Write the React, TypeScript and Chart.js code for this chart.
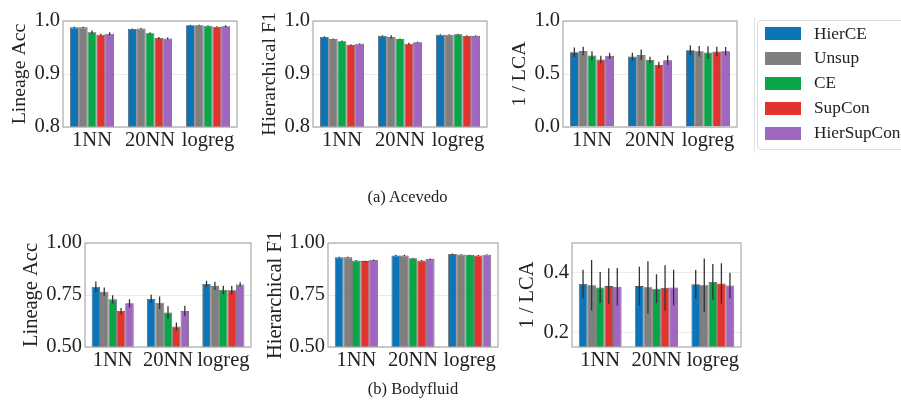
import React, { useEffect, useRef } from "react";
import { Chart, registerables } from "chart.js";

Chart.register(...registerables);

// ---------- data ----------
const categories = ["1NN", "20NN", "logreg"];
const seriesNames = ["HierCE", "Unsup", "CE", "SupCon", "HierSupCon"];
const seriesColors = ["#0c74b9", "#7f7f7f", "#08a646", "#e3332f", "#a067c1"];

// (a) Acevedo — rows follow seriesNames, columns follow categories
const aceLineageVals = [
  [0.988, 0.985, 0.992],
  [0.988, 0.986, 0.992],
  [0.979, 0.977, 0.991],
  [0.974, 0.968, 0.989],
  [0.976, 0.967, 0.990],
];
const aceLineageErrs = [
  [0.001, 0.001, 0.001],
  [0.001, 0.001, 0.001],
  [0.003, 0.002, 0.001],
  [0.002, 0.002, 0.001],
  [0.003, 0.002, 0.002],
];
const aceF1Vals = [
  [0.970, 0.972, 0.974],
  [0.966, 0.970, 0.974],
  [0.962, 0.966, 0.975],
  [0.955, 0.957, 0.972],
  [0.957, 0.960, 0.972],
];
const aceF1Errs = [
  [0.001, 0.001, 0.001],
  [0.001, 0.003, 0.001],
  [0.001, 0.001, 0.001],
  [0.001, 0.002, 0.001],
  [0.001, 0.001, 0.001],
];
const aceLcaVals = [
  [0.705, 0.665, 0.724],
  [0.718, 0.680, 0.715],
  [0.674, 0.633, 0.702],
  [0.636, 0.586, 0.712],
  [0.671, 0.630, 0.715],
];
const aceLcaErrs = [
  [0.045, 0.035, 0.045],
  [0.040, 0.050, 0.050],
  [0.040, 0.030, 0.060],
  [0.035, 0.030, 0.045],
  [0.030, 0.045, 0.040],
];

// (b) Bodyfluid
const bodyLineageVals = [
  [0.790, 0.731, 0.803],
  [0.766, 0.713, 0.794],
  [0.729, 0.666, 0.774],
  [0.673, 0.598, 0.773],
  [0.710, 0.673, 0.801],
];
const bodyLineageErrs = [
  [0.025, 0.020, 0.015],
  [0.020, 0.030, 0.020],
  [0.020, 0.030, 0.020],
  [0.015, 0.020, 0.020],
  [0.020, 0.025, 0.010],
];
const bodyF1Vals = [
  [0.931, 0.940, 0.947],
  [0.931, 0.940, 0.945],
  [0.916, 0.927, 0.942],
  [0.913, 0.916, 0.940],
  [0.918, 0.923, 0.944],
];
const bodyF1Errs = [
  [0.003, 0.003, 0.002],
  [0.003, 0.003, 0.002],
  [0.002, 0.002, 0.002],
  [0.002, 0.002, 0.002],
  [0.003, 0.002, 0.002],
];
const bodyLcaVals = [
  [0.362, 0.355, 0.361],
  [0.358, 0.351, 0.358],
  [0.350, 0.346, 0.369],
  [0.355, 0.349, 0.364],
  [0.353, 0.350, 0.357],
];
const bodyLcaErrs = [
  [0.048, 0.065, 0.048],
  [0.085, 0.088, 0.090],
  [0.052, 0.049, 0.060],
  [0.060, 0.076, 0.068],
  [0.063, 0.060, 0.043],
];

// tick values
const ticksAce = [0.8, 0.9, 1.0];
const ticksAceLca = [0.0, 0.5, 1.0];
const ticksBody = [0.5, 0.75, 1.0];
const ticksBodyLca = [0.2, 0.4];

const captionA = "(a) Acevedo";
const captionB = "(b) Bodyfluid";

// ---------- style / layout ----------
const FONT = "'Liberation Serif', 'Times New Roman', Times, serif";
const TEXT = "#222222";
const AXIS_FONT = 20.5;

type PanelDef = {
  vals: number[][];
  errs: number[][];
  yTitle: string;
  ticks: number[];
  digits: number;
  min: number;
  max: number;
  L: number;
  T: number;
  R: number;
  B: number;
  cl: number; // canvas left
  titleX: number;
  titleSize: number;
};

const panels: PanelDef[] = [
  { vals: aceLineageVals, errs: aceLineageErrs, yTitle: "Lineage Acc", ticks: ticksAce, digits: 1, min: 0.8, max: 1.0, L: 63, T: 21, R: 237, B: 127, cl: 0, titleX: 19.5, titleSize: 19.8 },
  { vals: aceF1Vals, errs: aceF1Errs, yTitle: "Hierarchical F1", ticks: ticksAce, digits: 1, min: 0.8, max: 1.0, L: 313, T: 21, R: 487, B: 127, cl: 250, titleX: 269.5, titleSize: 19.8 },
  { vals: aceLcaVals, errs: aceLcaErrs, yTitle: "1 / LCA", ticks: ticksAceLca, digits: 1, min: 0.0, max: 1.0, L: 563, T: 21, R: 737, B: 127, cl: 500, titleX: 519.5, titleSize: 19.8 },
  { vals: bodyLineageVals, errs: bodyLineageErrs, yTitle: "Lineage Acc", ticks: ticksBody, digits: 2, min: 0.5, max: 1.0, L: 85, T: 243, R: 251, B: 347, cl: 15, titleX: 31.5, titleSize: 20.5 },
  { vals: bodyF1Vals, errs: bodyF1Errs, yTitle: "Hierarchical F1", ticks: ticksBody, digits: 2, min: 0.5, max: 1.0, L: 328, T: 243, R: 498, B: 347, cl: 258, titleX: 276, titleSize: 20.5 },
  { vals: bodyLcaVals, errs: bodyLcaErrs, yTitle: "1 / LCA", ticks: ticksBodyLca, digits: 1, min: 0.15, max: 0.5, L: 572, T: 243, R: 741, B: 347, cl: 502, titleX: 527.5, titleSize: 20.5 },
];

const PAD_TOP = 18;
const PAD_RIGHT = 16;
const X_AXIS_H = 40;

function PanelChart({ p }: { p: PanelDef }) {
  const ref = useRef<HTMLCanvasElement | null>(null);
  const axisW = p.L - p.cl;
  const w = axisW + (p.R - p.L) + PAD_RIGHT;
  const h = PAD_TOP + (p.B - p.T) + X_AXIS_H;

  useEffect(() => {
    if (!ref.current) return;
    const lineH = p.titleSize * 1.2;
    const titlePad = p.titleX - p.cl - lineH / 2;

    const framePlugin = {
      id: "frame",
      afterDatasetsDraw(chart: any) {
        const { ctx, chartArea } = chart;
        ctx.save();
        ctx.strokeStyle = "#ababab";
        ctx.lineWidth = 1.2;
        ctx.strokeRect(chartArea.left, chartArea.top, chartArea.right - chartArea.left, chartArea.bottom - chartArea.top);
        ctx.restore();
      },
    };
    const errorPlugin = {
      id: "errbars",
      afterDatasetsDraw(chart: any) {
        const { ctx } = chart;
        const ys = chart.scales.y;
        ctx.save();
        ctx.strokeStyle = "#333333";
        ctx.lineWidth = 1.3;
        ctx.beginPath();
        chart.data.datasets.forEach((ds: any, i: number) => {
          const meta = chart.getDatasetMeta(i);
          meta.data.forEach((bar: any, j: number) => {
            const v = ds.data[j];
            const e = p.errs[i][j];
            ctx.moveTo(bar.x, ys.getPixelForValue(v - e));
            ctx.lineTo(bar.x, ys.getPixelForValue(v + e));
          });
        });
        ctx.stroke();
        ctx.restore();
      },
    };

    const chart = new Chart(ref.current, {
      type: "bar",
      data: {
        labels: categories,
        datasets: seriesNames.map((n, i) => ({
          label: n,
          data: p.vals[i],
          backgroundColor: seriesColors[i],
          borderColor: "rgba(45,45,45,0.8)",
          borderWidth: 0.8,
          categoryPercentage: 0.76,
          barPercentage: 1.0,
        })),
      },
      options: {
        animation: false,
        responsive: false,
        devicePixelRatio: 1,
        layout: { padding: { left: 0, top: PAD_TOP, right: PAD_RIGHT, bottom: 0 } },
        plugins: { legend: { display: false }, tooltip: { enabled: false } },
        scales: {
          x: {
            grid: { display: false, drawTicks: false },
            border: { display: false },
            ticks: {
              color: TEXT,
              font: { family: FONT, size: AXIS_FONT },
              padding: 1,
              autoSkip: false,
              maxRotation: 0,
              minRotation: 0,
            },
            afterFit: (s: any) => {
              s.height = X_AXIS_H;
            },
          },
          y: {
            min: p.min,
            max: p.max,
            afterBuildTicks: (s: any) => {
              s.ticks = p.ticks.map((v) => ({ value: v }));
            },
            ticks: {
              color: TEXT,
              font: { family: FONT, size: AXIS_FONT },
              padding: 3,
              callback: (v: any) => Number(v).toFixed(p.digits),
            },
            grid: { color: "#ebebeb", lineWidth: 1, drawTicks: false },
            border: { display: false },
            title: {
              display: true,
              text: p.yTitle,
              color: TEXT,
              font: { family: FONT, size: p.titleSize },
              padding: { top: titlePad, bottom: 0 },
            },
            afterFit: (s: any) => {
              s.width = axisW;
            },
          },
        },
      } as any,
      plugins: [framePlugin, errorPlugin],
    });
    return () => chart.destroy();
  }, []);

  return (
    <canvas
      ref={ref}
      width={w}
      height={h}
      style={{ position: "absolute", left: p.cl, top: p.T - PAD_TOP, width: w, height: h }}
    />
  );
}

export default function App() {
  const legendFont = 17.3;
  return (
    <div
      style={{
        position: "fixed",
        left: 0,
        top: 0,
        width: 901,
        height: 403,
        background: "#ffffff",
        overflow: "hidden",
      }}
    >
      {panels.map((p, i) => (
        <PanelChart key={i} p={p} />
      ))}

      {/* legend */}
      <div style={{ position: "absolute", left: 754, top: 18, width: 1, height: 135, background: "#e2e2e2" }} />
      <div
        style={{
          position: "absolute",
          left: 757,
          top: 20,
          width: 170,
          height: 130,
          border: "1px solid #dcdcdc",
          borderRadius: 4,
          boxSizing: "border-box",
        }}
      />
      {seriesNames.map((n, i) => (
        <React.Fragment key={n}>
          <div
            style={{
              position: "absolute",
              left: 765,
              top: 27.3 + i * 24.9,
              width: 36,
              height: 12.7,
              background: seriesColors[i],
            }}
          />
          <div
            style={{
              position: "absolute",
              left: 814,
              top: 23.5 + i * 24.9,
              fontFamily: FONT,
              fontSize: legendFont,
              lineHeight: "20px",
              color: TEXT,
              whiteSpace: "nowrap",
            }}
          >
            {n}
          </div>
        </React.Fragment>
      ))}

      {/* captions */}
      <div
        style={{
          position: "absolute",
          left: 407.5 - 100,
          top: 187.2,
          width: 200,
          textAlign: "center",
          fontFamily: FONT,
          fontSize: 16.5,
          lineHeight: "20px",
          color: TEXT,
        }}
      >
        {captionA}
      </div>
      <div
        style={{
          position: "absolute",
          left: 413 - 100,
          top: 378.5,
          width: 200,
          textAlign: "center",
          fontFamily: FONT,
          fontSize: 16.5,
          lineHeight: "20px",
          color: TEXT,
        }}
      >
        {captionB}
      </div>
    </div>
  );
}
